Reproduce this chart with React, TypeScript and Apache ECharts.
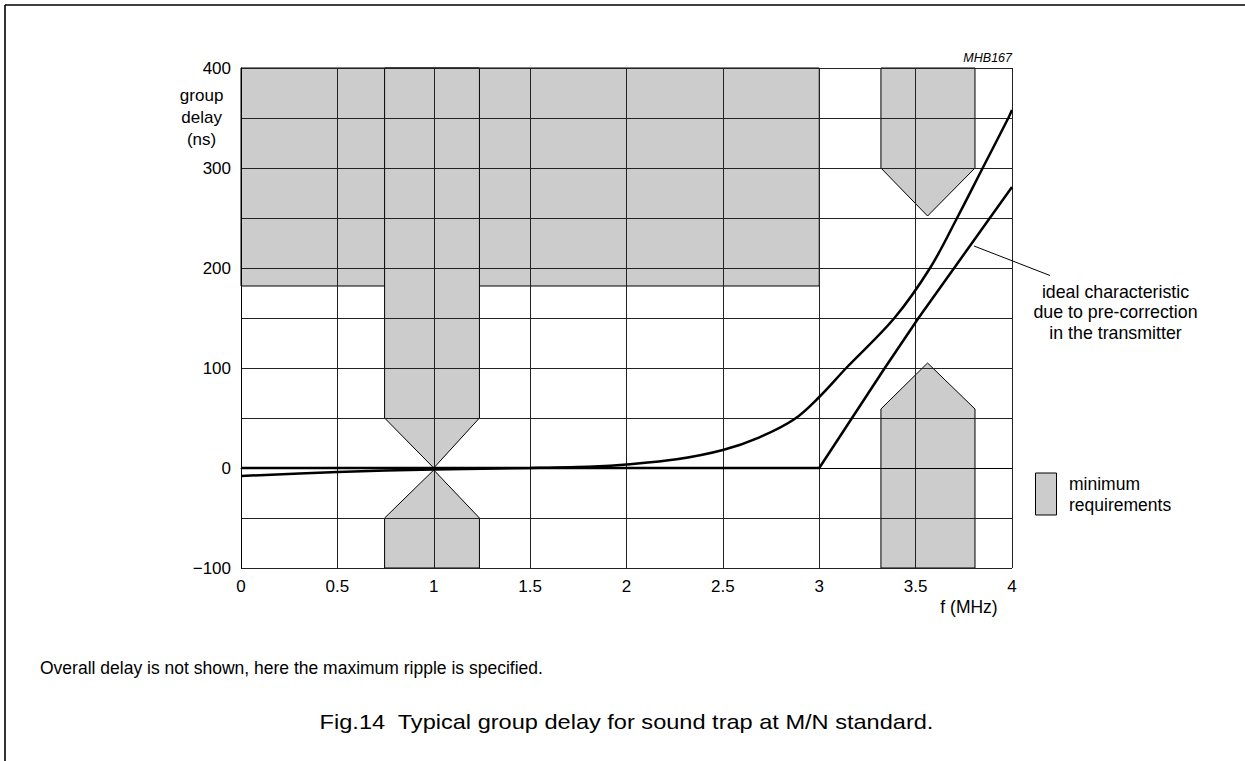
import React, { useEffect, useRef } from "react";
import * as echarts from "echarts";

// Frequency axis (MHz) and group delay axis (ns)
const xMin = 0;
const xMax = 4;
const xStep = 0.5;
const yMin = -100;
const yMax = 400;
const yStep = 50;

// Curve with gradual rise (sound trap characteristic)
const freqB = [0, 0.5, 1, 1.5, 1.83, 2, 2.26, 2.5, 2.69, 2.87, 3, 3.14, 3.39, 3.575, 3.715, 3.848, 3.981, 4];
const delayB = [-8, -4, -1.5, 0, 1.5, 3.5, 8.7, 18, 30.7, 48.7, 71, 100, 150, 200, 250, 300, 350, 358];

// Ideal characteristic due to pre-correction in the transmitter
const freqA = [0, 3, 3.17, 3.34, 3.515, 3.7, 3.885, 4];
const delayA = [0, 0, 50, 100, 150, 200, 250, 281];

// Minimum requirement regions (polygons in data units: [MHz, ns])
const maskTopBlock = [[0, 400], [3, 400], [3, 182], [0, 182]];
const maskNotchUpper = [[0.745, 400], [0.745, 50], [1, 0], [1.237, 50], [1.237, 400]];
const maskNotchLower = [[0.745, -100], [0.745, -50], [1, -2], [1.237, -50], [1.237, -100]];
const maskTrapUpper = [[3.32, 400], [3.32, 300], [3.562, 252], [3.808, 300], [3.808, 400]];
const maskTrapLower = [[3.32, -100], [3.32, 59], [3.562, 105], [3.808, 59], [3.808, -100]];
const masks = [maskTopBlock, maskNotchUpper, maskNotchLower, maskTrapUpper, maskTrapLower];

const FONT = "'Liberation Sans', Arial, Helvetica, sans-serif";

export default function App() {
  const ref = useRef<HTMLDivElement>(null);

  useEffect(() => {
    document.body.style.margin = "0";
    if (!ref.current) return;
    const chart = echarts.init(ref.current, undefined, { renderer: "svg" });

    const option: any = {
      animation: false,
      backgroundColor: "#ffffff",
      textStyle: { fontFamily: FONT },
      grid: { left: 241, right: 233, top: 68, bottom: 193, containLabel: false },
      xAxis: {
        type: "value",
        min: xMin,
        max: xMax,
        interval: xStep,
        axisLine: { show: true, lineStyle: { color: "#000", width: 1 } },
        axisTick: { show: false },
        splitLine: { show: true, lineStyle: { color: "#222", width: 1 } },
        axisLabel: {
          color: "#000",
          fontSize: 17,
          fontFamily: FONT,
          margin: 10,
          formatter: (v: number) => String(v),
        },
      },
      yAxis: {
        type: "value",
        min: yMin,
        max: yMax,
        interval: yStep,
        axisLine: { show: true, lineStyle: { color: "#000", width: 1 } },
        axisTick: { show: false },
        splitLine: { show: true, lineStyle: { color: "#222", width: 1 } },
        axisLabel: {
          color: "#000",
          fontSize: 17,
          fontFamily: FONT,
          margin: 10,
          formatter: (v: number) =>
            v % 100 === 0 ? (v < 0 ? "\u2212" + Math.abs(v) : String(v)) : "",
        },
      },
      series: [
        {
          type: "custom",
          name: "minimum requirements",
          z: -1,
          silent: true,
          data: masks.map((_, i) => [i]),
          renderItem: (params: any, api: any) => {
            const idx = api.value(0);
            const pts = masks[idx].map((p) => api.coord(p));
            return {
              type: "polygon",
              shape: { points: pts },
              style: { fill: "#cccccc", stroke: "#000", lineWidth: 1 },
            };
          },
        },
        {
          type: "line",
          name: "group delay",
          data: freqB.map((f, i) => [f, delayB[i]]),
          showSymbol: false,
          symbol: "none",
          smooth: 0.35,
          lineStyle: { color: "#000", width: 2.5 },
        },
        {
          type: "line",
          name: "ideal characteristic",
          data: freqA.map((f, i) => [f, delayA[i]]),
          showSymbol: false,
          symbol: "none",
          lineStyle: { color: "#000", width: 2.5 },
        },
      ],
      graphic: [
        { type: "line", shape: { x1: 5, y1: 5, x2: 1245, y2: 5 }, style: { stroke: "#000", lineWidth: 1.6 } },
        { type: "line", shape: { x1: 5, y1: 5, x2: 5, y2: 761 }, style: { stroke: "#000", lineWidth: 1.6 } },
        {
          type: "text",
          x: 1012,
          y: 58,
          style: {
            text: "MHB167",
            fontSize: 12.5,
            fontStyle: "italic",
            fontFamily: FONT,
            fill: "#000",
            textAlign: "right",
            textVerticalAlign: "middle",
          },
        },
        {
          type: "text",
          x: 201.6,
          y: 117,
          style: {
            text: "group\ndelay\n(ns)",
            fontSize: 17,
            lineHeight: 22,
            fontFamily: FONT,
            fill: "#000",
            textAlign: "center",
            textVerticalAlign: "middle",
          },
        },
        {
          type: "text",
          x: 969,
          y: 607,
          style: {
            text: "f (MHz)",
            fontSize: 17.5,
            fontFamily: FONT,
            fill: "#000",
            textAlign: "center",
            textVerticalAlign: "middle",
          },
        },
        {
          type: "line",
          z: 100,
          shape: { x1: 974, y1: 246, x2: 1050, y2: 275.5 },
          style: { stroke: "#000", lineWidth: 1 },
        },
        {
          type: "text",
          x: 1115.5,
          y: 312.3,
          style: {
            text: "ideal characteristic\ndue to pre-correction\nin the transmitter",
            fontSize: 17.8,
            lineHeight: 20.5,
            fontFamily: FONT,
            fill: "#000",
            textAlign: "center",
            textVerticalAlign: "middle",
          },
        },
        {
          type: "rect",
          shape: { x: 1035.5, y: 473, width: 21, height: 42 },
          style: { fill: "#cccccc", stroke: "#000", lineWidth: 1 },
        },
        {
          type: "text",
          x: 1069,
          y: 494.5,
          style: {
            text: "minimum\nrequirements",
            fontSize: 17.5,
            lineHeight: 21.3,
            fontFamily: FONT,
            fill: "#000",
            textAlign: "left",
            textVerticalAlign: "middle",
          },
        },
        {
          type: "text",
          x: 40,
          y: 668.3,
          style: {
            text: "Overall delay is not shown, here the maximum ripple is specified.",
            fontSize: 17.5,
            fontFamily: FONT,
            fill: "#000",
            textAlign: "left",
            textVerticalAlign: "middle",
          },
        },
        {
          type: "text",
          x: 626.5,
          y: 722,
          scaleX: 1.15,
          style: {
            text: "Fig.14  Typical group delay for sound trap at M/N standard.",
            fontSize: 20.5,
            fontFamily: FONT,
            fill: "#000",
            textAlign: "center",
            textVerticalAlign: "middle",
          },
        },
      ],
    };

    chart.setOption(option);
    return () => {
      chart.dispose();
    };
  }, []);

  return <div ref={ref} style={{ width: 1245, height: 761 }} />;
}
